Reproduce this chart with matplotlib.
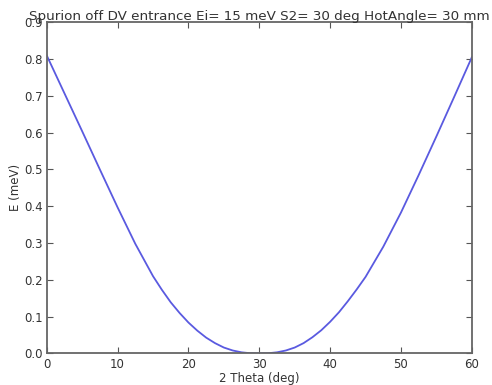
import matplotlib
matplotlib.use("Agg")
import matplotlib.pyplot as plt

# spurion energy vs detector angle (finer sampling near the minimum)
theta = [0, 2.5, 5, 7.5, 10, 12.5, 15, 16.25, 17.5, 18.75, 20, 21.25, 22.5, 23.75,
         25, 26.25, 27.5, 28.75, 30, 31.25, 32.5, 33.75, 35, 36.25, 37.5, 38.75,
         40, 41.25, 42.5, 43.75, 45, 47.5, 50, 52.5, 55, 57.5, 60]
energy = [0.810, 0.707, 0.604, 0.500, 0.397, 0.298, 0.210, 0.173, 0.139, 0.110, 0.084, 0.062, 0.043, 0.028,
          0.016, 0.008, 0.003, 0.0005, 0.000, 0.0005, 0.003, 0.008, 0.016, 0.028, 0.044, 0.063,
          0.086, 0.112, 0.142, 0.174, 0.208, 0.290, 0.383, 0.485, 0.590, 0.697, 0.805]

fig = plt.figure(figsize=(4.92, 3.85), dpi=100)
ax = fig.add_axes([0.095, 0.082, 0.864, 0.860])

ax.plot(theta, energy, color="#5a5ae0", lw=1.3)

ax.set_xlim(0, 60)
ax.set_ylim(0, 0.9)
ax.set_xticks(range(0, 61, 10))
ax.set_yticks([i / 10 for i in range(10)])
ax.set_yticklabels(["%.1f" % (i / 10) for i in range(10)])

ax.tick_params(direction="in", top=True, right=True, length=4, width=0.8,
               labelsize=8.5, colors="#555555", labelcolor="#333333", pad=3)
for s in ax.spines.values():
    s.set_color("#666666")
    s.set_linewidth(1.3)

ax.set_xlabel("2 Theta (deg)", fontsize=8.5, color="#333333", labelpad=1)
ax.set_ylabel("E (meV)", fontsize=8.5, color="#333333", labelpad=1.5)
ax.set_title("Spurion off DV entrance Ei= 15 meV S2= 30 deg HotAngle= 30 mm",
             fontsize=9.7, color="#333333", pad=2)

fig.savefig("out.png", dpi=100)
